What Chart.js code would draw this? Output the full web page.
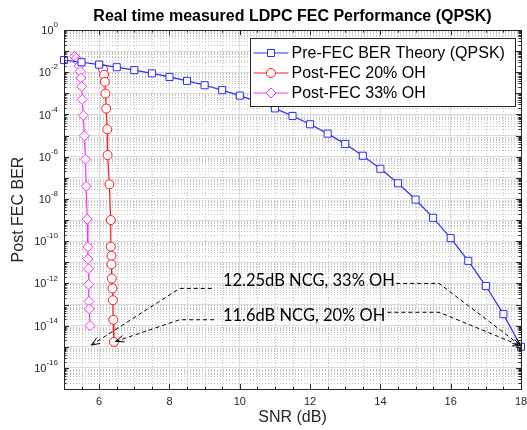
<!DOCTYPE html>
<html>
<head>
<meta charset="utf-8">
<script src="https://cdn.jsdelivr.net/npm/chart.js@4.4.0/dist/chart.umd.min.js"></script>
<style>
  html, body { margin: 0; padding: 0; background: #fff; }
</style>
</head>
<body>
<canvas id="chart" width="527" height="430"></canvas>
<script>
// data
var SNR_THEORY = [5, 5.5, 6, 6.5, 7, 7.5, 8, 8.5, 9, 9.5, 10, 10.5, 11, 11.5, 12,
                  12.5, 13, 13.5, 14, 14.5, 15, 15.5, 16, 16.5, 17, 17.5, 18];
var BER_THEORY = [3.77e-2, 2.98e-2, 2.30e-2, 1.73e-2, 1.26e-2, 8.87e-3, 6.00e-3, 3.90e-3,
                  2.42e-3, 1.42e-3, 7.83e-4, 4.04e-4, 1.94e-4, 8.53e-5, 3.43e-5, 1.24e-5,
                  3.97e-6, 1.11e-6, 2.69e-7, 5.52e-8, 9.36e-9, 1.28e-9, 1.39e-10, 1.17e-11,
                  7.5e-13, 3.5e-14, 1.0e-15];

var SNR_OH20 = [6.11, 6.14, 6.16, 6.18, 6.20, 6.23, 6.24, 6.29, 6.33, 6.33, 6.35, 6.35,
                6.36, 6.38, 6.39, 6.40, 6.42];
var BER_OH20 = [1.4e-2, 7.6e-3, 3.5e-3, 9.8e-4, 1.9e-4, 2.0e-5, 1.2e-6, 4.9e-8, 1.0e-9,
                5.5e-11, 2.0e-11, 8.0e-12, 1.7e-12, 5.8e-13, 1.6e-13, 1.9e-14, 1.7e-15];

var SNR_OH33 = [5.30, 5.35, 5.40, 5.43, 5.46, 5.48, 5.50, 5.52, 5.55, 5.58, 5.61, 5.63,
                5.66, 5.68, 5.68, 5.70, 5.70, 5.71, 5.72, 5.74];
var BER_OH33 = [5.5e-2, 4.6e-2, 3.2e-2, 2.0e-2, 1.1e-2, 5.3e-3, 2.1e-3, 5.1e-4, 9.0e-5,
                9.8e-6, 7.6e-7, 4.0e-8, 1.1e-9, 5.4e-11, 1.45e-11, 4.9e-12, 9.0e-13,
                1.4e-13, 6.2e-14, 1.0e-14];

var X_TICKS = [6, 8, 10, 12, 14, 16, 18];
var Y_DECADES = [0, -1, -2, -3, -4, -5, -6, -7, -8, -9, -10, -11, -12, -13, -14, -15, -16, -17];
var Y_LABEL_EXP = [0, -2, -4, -6, -8, -10, -12, -14, -16];

// NCG annotations: arrow tip -> elbow -> text, text -> elbow -> arrow tip (data coords)
var NCG_LABELS = ['12.25dB NCG, 33% OH', '11.6dB NCG, 20% OH'];
var NCG_TEXT_AT = [[9.52, 1.3e-12], [9.52, 3.1e-14]];
var NCG_LEFT = [
  [[5.78, 1.2e-15], [8.29, 5.8e-13], [9.29, 5.8e-13]],
  [[6.47, 1.8e-15], [8.29, 1.9e-14], [9.29, 1.9e-14]]
];
var NCG_RIGHT = [
  [[14.45, 1.0e-12], [15.67, 1.0e-12], [18.0, 1.1e-15]],
  [[14.2, 4.3e-14], [15.67, 4.3e-14], [18.0, 1.1e-15]]
];

var FONT = '"Liberation Sans", Arial, sans-serif';
var AXIS_COLOR = '#262626';

function pts(xs, ys) {
  return xs.map(function (x, i) { return { x: x, y: ys[i] }; });
}

function arrowHead(c, x0, y0, x1, y1) {
  var ang = Math.atan2(y1 - y0, x1 - x0);
  var len = 9, spread = 0.38;
  c.beginPath();
  c.moveTo(x1 - len * Math.cos(ang - spread), y1 - len * Math.sin(ang - spread));
  c.lineTo(x1, y1);
  c.lineTo(x1 - len * Math.cos(ang + spread), y1 - len * Math.sin(ang + spread));
  c.stroke();
}

var matlabAxes = {
  id: 'matlabAxes',
  beforeDatasetsDraw: function (chart) {
    var c = chart.ctx, a = chart.chartArea;
    var xs = chart.scales.x, ys = chart.scales.y;
    c.save();
    c.strokeStyle = '#c4c4c4';
    c.lineWidth = 1;
    c.setLineDash([1, 2]);
    c.beginPath();
    for (var v = 5.5; v < 18; v += 0.5) {
      if (X_TICKS.indexOf(v) >= 0) continue;
      var px = Math.round(xs.getPixelForValue(v)) + 0.5;
      c.moveTo(px, a.top); c.lineTo(px, a.bottom);
    }
    for (var e = -17; e < 0; e++) {
      for (var k = 2; k <= 9; k++) {
        var py = Math.round(ys.getPixelForValue(k * Math.pow(10, e))) + 0.5;
        c.moveTo(a.left, py); c.lineTo(a.right, py);
      }
    }
    c.stroke();
    c.restore();
  },
  afterDatasetsDraw: function (chart) {
    var c = chart.ctx, a = chart.chartArea;
    var xs = chart.scales.x, ys = chart.scales.y;
    c.save();
    c.strokeStyle = AXIS_COLOR;
    c.lineWidth = 1;
    c.beginPath();
    // x ticks, top and bottom
    for (var v = 5.5; v < 18; v += 0.5) {
      var major = X_TICKS.indexOf(v) >= 0;
      var tl = major ? 5 : 2.5;
      var px = Math.round(xs.getPixelForValue(v)) + 0.5;
      c.moveTo(px, a.bottom); c.lineTo(px, a.bottom - tl);
      c.moveTo(px, a.top); c.lineTo(px, a.top + tl);
    }
    // y ticks, left and right
    for (var e = -17; e <= 0; e++) {
      for (var k = 1; k <= 9; k++) {
        if (e === 0 && k > 1) break;
        var tl2 = k === 1 ? 5 : 2.5;
        var py = Math.round(ys.getPixelForValue(k * Math.pow(10, e))) + 0.5;
        c.moveTo(a.left, py); c.lineTo(a.left + tl2, py);
        c.moveTo(a.right, py); c.lineTo(a.right - tl2, py);
      }
    }
    c.stroke();
    c.strokeRect(Math.round(a.left) + 0.5, Math.round(a.top) + 0.5,
                 Math.round(a.right - a.left), Math.round(a.bottom - a.top));
    c.restore();
  },
  afterDraw: function (chart) {
    var c = chart.ctx, a = chart.chartArea;
    var xs = chart.scales.x, ys = chart.scales.y;
    c.save();

    // title
    c.fillStyle = '#000';
    c.font = 'bold 16px ' + FONT;
    c.textAlign = 'center';
    c.textBaseline = 'alphabetic';
    c.fillText('Real time measured LDPC FEC Performance (QPSK)', (a.left + a.right) / 2, 21);

    // y tick labels as 10^n
    c.fillStyle = AXIS_COLOR;
    c.textAlign = 'right';
    c.textBaseline = 'middle';
    Y_LABEL_EXP.forEach(function (e) {
      var py = ys.getPixelForValue(Math.pow(10, e));
      var xr = a.left - 6;
      c.font = '8px ' + FONT;
      var sup = String(e);
      var sw = c.measureText(sup).width;
      c.fillText(sup, xr, py - 5);
      c.font = '11px ' + FONT;
      c.fillText('10', xr - sw, py + 1);
    });

    // NCG annotations
    c.strokeStyle = '#000';
    c.lineWidth = 1;
    for (var i = 0; i < NCG_LABELS.length; i++) {
      [NCG_LEFT[i], NCG_RIGHT[i]].forEach(function (line, side) {
        var p = line.map(function (q) {
          return [xs.getPixelForValue(q[0]), ys.getPixelForValue(q[1])];
        });
        c.setLineDash([4, 3]);
        c.beginPath();
        c.moveTo(p[0][0], p[0][1]);
        for (var j = 1; j < p.length; j++) c.lineTo(p[j][0], p[j][1]);
        c.stroke();
        c.setLineDash([]);
        if (side === 0) arrowHead(c, p[1][0], p[1][1], p[0][0], p[0][1]);
        else arrowHead(c, p[1][0], p[1][1], p[2][0], p[2][1]);
      });
      c.fillStyle = '#000';
      c.font = '16.5px Lato, sans-serif';
      c.textAlign = 'left';
      c.textBaseline = 'middle';
      c.fillText(NCG_LABELS[i], xs.getPixelForValue(NCG_TEXT_AT[i][0]),
                 ys.getPixelForValue(NCG_TEXT_AT[i][1]));
    }

    // legend box, top right inside the axes
    var bx = 250.5, by = 38.5, bw = 265, bh = 68;
    c.fillStyle = '#fff';
    c.fillRect(bx, by, bw, bh);
    c.strokeStyle = AXIS_COLOR;
    c.strokeRect(bx, by, bw, bh);
    chart.data.datasets.forEach(function (ds, i) {
      var ry = 53 + i * 20;
      c.strokeStyle = ds.borderColor;
      c.lineWidth = 1;
      c.beginPath();
      c.moveTo(bx + 3, ry); c.lineTo(bx + 38, ry);
      c.stroke();
      c.fillStyle = '#fff';
      Chart.helpers.drawPoint(c, {
        pointStyle: ds.pointStyle, radius: ds.pointRadius, borderWidth: 1
      }, bx + 20.5, ry);
      c.fillStyle = '#000';
      c.font = '16px ' + FONT;
      c.textAlign = 'left';
      c.textBaseline = 'middle';
      c.fillText(ds.label, bx + 41, ry + 1);
    });
    c.restore();
  }
};

new Chart(document.getElementById('chart'), {
  type: 'line',
  data: {
    datasets: [{
      label: 'Pre-FEC BER Theory (QPSK)',
      data: pts(SNR_THEORY, BER_THEORY),
      borderColor: '#2b2bff',
      backgroundColor: '#fff',
      borderWidth: 1.2,
      pointStyle: 'rect',
      pointRadius: 5,
      pointBorderWidth: 1,
      clip: 8
    }, {
      label: 'Post-FEC 20% OH',
      data: pts(SNR_OH20, BER_OH20),
      borderColor: '#ff1a1a',
      backgroundColor: '#fff',
      borderWidth: 1.2,
      pointStyle: 'circle',
      pointRadius: 4.5,
      pointBorderWidth: 1,
      clip: 8
    }, {
      label: 'Post-FEC 33% OH',
      data: pts(SNR_OH33, BER_OH33),
      borderColor: '#ff2eff',
      backgroundColor: '#fff',
      borderWidth: 1.2,
      pointStyle: 'rectRot',
      pointRadius: 5,
      pointBorderWidth: 1,
      clip: 8
    }]
  },
  options: {
    responsive: false,
    animation: false,
    layout: { padding: { top: 30, right: 6, left: 0, bottom: 0 } },
    plugins: {
      legend: { display: false },
      title: { display: false },
      tooltip: { enabled: false }
    },
    scales: {
      x: {
        type: 'linear',
        min: 5,
        max: 18,
        afterBuildTicks: function (s) {
          s.ticks = X_TICKS.map(function (v) { return { value: v }; });
        },
        afterFit: function (s) {
          s.height = 41;
          s.paddingLeft = 0;
          s.paddingRight = 0;
        },
        ticks: {
          padding: 6,
          color: AXIS_COLOR,
          font: { size: 11, family: FONT },
          callback: function (v) { return String(v); }
        },
        grid: { color: '#dcdcdc', drawTicks: false },
        border: { display: false },
        title: {
          display: true,
          text: 'SNR (dB)',
          color: AXIS_COLOR,
          font: { size: 16, family: FONT },
          padding: { top: 0, bottom: 3 }
        }
      },
      y: {
        type: 'logarithmic',
        min: 1e-17,
        max: 1,
        afterBuildTicks: function (s) {
          s.ticks = Y_DECADES.map(function (e) { return { value: Math.pow(10, e) }; });
        },
        afterFit: function (s) {
          s.width = 64;
          s.paddingTop = 0;
          s.paddingBottom = 0;
        },
        ticks: { display: false },
        grid: { color: '#dcdcdc', drawTicks: false },
        border: { display: false },
        title: {
          display: true,
          text: 'Post FEC BER',
          color: AXIS_COLOR,
          font: { size: 16, family: FONT },
          padding: { top: 9, bottom: 0 }
        }
      }
    }
  },
  plugins: [matlabAxes]
});
</script>
</body>
</html>
